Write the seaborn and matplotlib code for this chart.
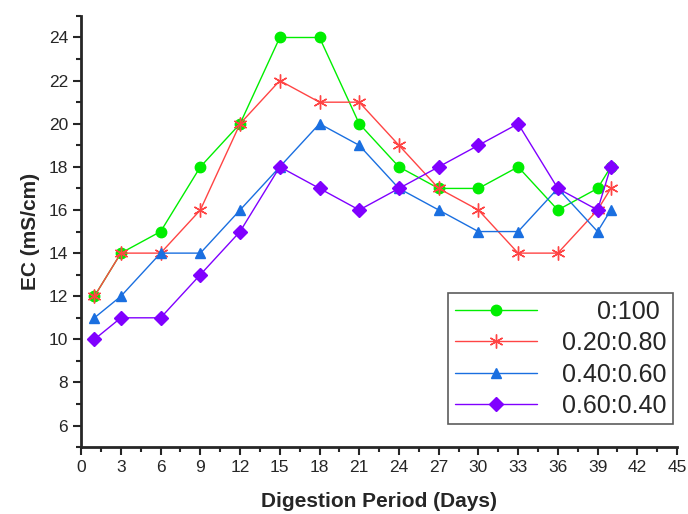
import matplotlib
matplotlib.use("Agg")
import matplotlib.pyplot as plt
from matplotlib.ticker import MultipleLocator
import seaborn as sns
import pandas as pd

days = [1, 3, 6, 9, 12, 15, 18, 21, 24, 27, 30, 33, 36, 39, 40]
ec_0_100 = [12, 14, 15, 18, 20, 24, 24, 20, 18, 17, 17, 18, 16, 17, 18]
ec_020_080 = [12, 14, 14, 16, 20, 22, 21, 21, 19, 17, 16, 14, 14, 16, 17]
ec_040_060 = [11, 12, 14, 14, 16, 18, 20, 19, 17, 16, 15, 15, 17, 15, 16]
ec_060_040 = [10, 11, 11, 13, 15, 18, 17, 16, 17, 18, 19, 20, 17, 16, 18]

labels = ["     0:100", "0.20:0.80", "0.40:0.60", "0.60:0.40"]
colors = ["#00ee00", "#ff4444", "#1a6fe0", "#8000ff"]
markers = ["o", (6, 2, 0), "^", "D"]

sns.set_style("ticks")
plt.rcParams["font.family"] = ["Liberation Sans", "DejaVu Sans"]

fig, ax = plt.subplots(figsize=(6.88, 5.14), dpi=100)
fig.subplots_adjust(left=0.118, right=0.984, bottom=0.130, top=0.969)

series = [ec_0_100, ec_020_080, ec_040_060, ec_060_040]
for vals, lab, col, mk in zip(series, labels, colors, markers):
    df = pd.DataFrame({"day": days, "ec": vals})
    ms = 10 if isinstance(mk, tuple) else 7.5
    sns.lineplot(data=df, x="day", y="ec", ax=ax, color=col, marker=mk,
                 markersize=ms, markeredgecolor=col, markeredgewidth=1,
                 linewidth=1, label=lab)

ax.set_xlim(0, 45)
ax.set_ylim(5, 25)
ax.xaxis.set_major_locator(MultipleLocator(3))
ax.xaxis.set_minor_locator(MultipleLocator(1.5))
ax.yaxis.set_major_locator(MultipleLocator(2))
ax.yaxis.set_minor_locator(MultipleLocator(1))
ax.set_yticks(range(6, 25, 2))
ax.tick_params(axis="both", which="major", length=6, width=1.5, labelsize=12.5, direction="out")
ax.tick_params(axis="both", which="minor", length=3.5, width=1.5, direction="out")
for s in ["left", "bottom"]:
    ax.spines[s].set_linewidth(2)
sns.despine(ax=ax)

ax.set_xlabel("Digestion Period (Days)", fontsize=15, fontweight="bold", labelpad=12)
ax.set_ylabel("EC (mS/cm)", fontsize=15, fontweight="bold", labelpad=6)

leg = ax.legend(loc="lower right", bbox_to_anchor=(0.993, 0.053), fontsize=18,
                frameon=True, fancybox=False, edgecolor="#333333", handlelength=3.3,
                handletextpad=1.0, labelspacing=0.3, borderpad=0.25,
                borderaxespad=0, markerscale=1.0)
leg.get_frame().set_linewidth(1.2)

fig.savefig("out.png", dpi=100)
